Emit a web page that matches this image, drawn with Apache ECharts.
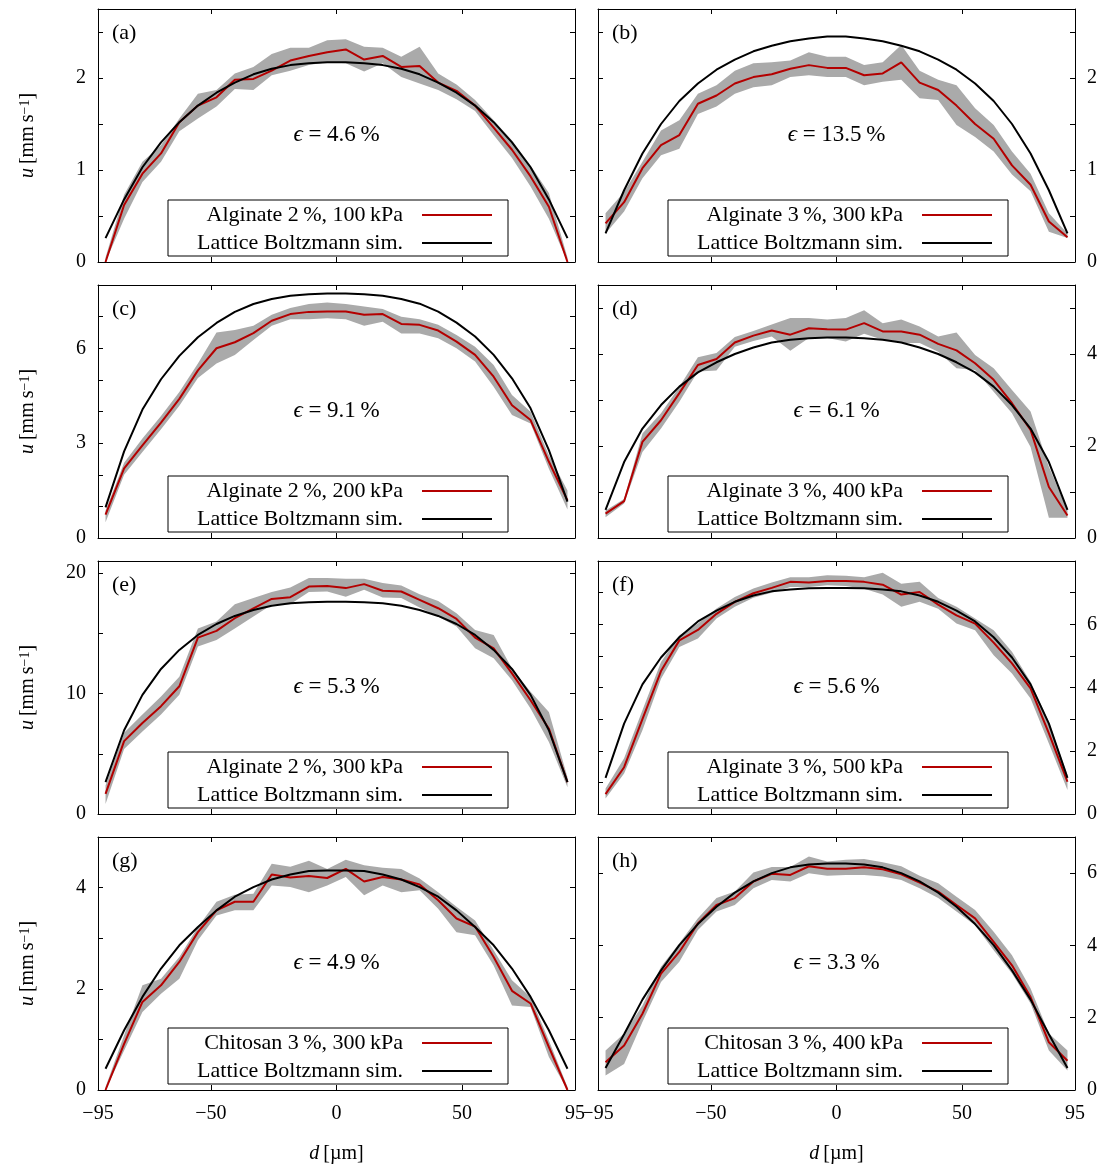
<!DOCTYPE html>
<html>
<head>
<meta charset="utf-8">
<script src="https://cdn.jsdelivr.net/npm/echarts@6/dist/echarts.min.js"></script>
<style>
  html, body { margin: 0; padding: 0; background: #fff; }
  #chart { width: 1105px; height: 1170px; }
</style>
</head>
<body>
<div id="chart"></div>
<script>
// radial position across the channel [µm]
var d = [-92.0,-84.6,-77.3,-69.9,-62.6,-55.2,-47.8,-40.5,-33.1,-25.8,-18.4,-11.0,-3.7,3.7,11.0,18.4,25.8,33.1,40.5,47.8,55.2,62.6,69.9,77.3,84.6,92.0];

// (a) Alginate 2 %, 100 kPa
var expA = [0.00,0.62,0.96,1.18,1.52,1.70,1.79,1.98,1.99,2.08,2.19,2.24,2.28,2.31,2.20,2.24,2.12,2.13,1.95,1.86,1.70,1.46,1.22,0.93,0.60,0.00];
var hiA  = [0.05,0.73,1.09,1.27,1.56,1.83,1.87,2.05,2.12,2.26,2.33,2.33,2.41,2.42,2.34,2.33,2.23,2.34,2.05,1.93,1.76,1.54,1.32,1.05,0.75,0.05];
var loA  = [0.00,0.47,0.87,1.09,1.42,1.56,1.69,1.88,1.87,2.03,2.08,2.14,2.17,2.16,2.07,2.16,2.01,1.94,1.87,1.77,1.64,1.38,1.13,0.82,0.47,0.00];
var simA = [0.26,0.68,1.03,1.30,1.52,1.70,1.84,1.95,2.04,2.10,2.14,2.16,2.17,2.17,2.16,2.14,2.10,2.04,1.95,1.84,1.70,1.52,1.30,1.03,0.68,0.26];

// (b) Alginate 3 %, 300 kPa
var expB = [0.42,0.65,1.02,1.27,1.38,1.72,1.81,1.94,2.01,2.04,2.10,2.14,2.11,2.11,2.03,2.05,2.17,1.95,1.87,1.70,1.50,1.34,1.05,0.84,0.44,0.27];
var hiB  = [0.53,0.76,1.09,1.43,1.54,1.83,1.92,2.08,2.16,2.17,2.19,2.28,2.23,2.23,2.14,2.17,2.36,2.08,1.98,1.92,1.67,1.49,1.20,0.96,0.53,0.31];
var loB  = [0.31,0.55,0.91,1.16,1.23,1.61,1.69,1.83,1.90,1.92,2.01,2.03,2.01,2.01,1.92,1.96,1.98,1.78,1.76,1.49,1.36,1.20,0.95,0.77,0.33,0.26];
var simB = [0.31,0.78,1.18,1.50,1.75,1.94,2.09,2.20,2.29,2.35,2.40,2.43,2.45,2.45,2.43,2.40,2.35,2.29,2.20,2.09,1.94,1.75,1.50,1.18,0.78,0.31];

// (c) Alginate 2 %, 200 kPa
var expC = [0.74,2.20,2.93,3.65,4.40,5.30,6.00,6.19,6.48,6.87,7.08,7.15,7.16,7.16,7.06,7.08,6.77,6.74,6.56,6.21,5.79,5.10,4.20,3.73,2.41,1.19];
var hiC  = [0.87,2.38,3.15,3.86,4.62,5.52,6.50,6.58,6.71,7.06,7.27,7.40,7.45,7.40,7.32,7.24,7.00,6.92,6.74,6.42,6.05,5.47,4.52,3.99,2.62,1.50];
var loC  = [0.50,2.00,2.72,3.44,4.18,5.06,5.52,5.79,6.26,6.71,6.92,6.92,6.95,6.92,6.71,6.84,6.47,6.47,6.32,6.00,5.58,4.78,3.89,3.62,2.19,0.90];
var simC = [0.97,2.74,4.06,5.02,5.76,6.35,6.80,7.15,7.40,7.56,7.66,7.71,7.73,7.73,7.71,7.66,7.56,7.41,7.16,6.81,6.37,5.79,5.05,4.10,2.78,1.15];

// (d) Alginate 3 %, 400 kPa
var expD = [0.53,0.80,2.09,2.56,3.15,3.76,3.89,4.25,4.40,4.51,4.42,4.56,4.54,4.53,4.67,4.49,4.49,4.42,4.22,4.08,3.80,3.44,2.93,2.35,1.11,0.49];
var hiD  = [0.60,0.85,2.27,2.71,3.29,3.93,4.02,4.37,4.50,4.64,4.78,4.78,4.75,4.78,4.95,4.67,4.75,4.60,4.38,4.47,3.98,3.69,3.22,2.75,1.55,0.60];
var loD  = [0.45,0.75,1.87,2.38,2.96,3.62,3.64,4.16,4.28,4.38,4.07,4.35,4.35,4.27,4.44,4.31,4.24,4.24,4.05,3.69,3.65,3.18,2.71,1.98,0.44,0.44];
var simD = [0.61,1.65,2.38,2.89,3.29,3.60,3.82,4.00,4.14,4.25,4.31,4.34,4.36,4.36,4.34,4.31,4.25,4.14,4.00,3.82,3.60,3.29,2.89,2.38,1.65,0.61];

// (e) Alginate 2 %, 300 kPa
var expE = [1.67,6.05,7.55,8.95,10.60,14.64,15.20,16.25,17.07,17.85,18.00,18.88,18.93,18.75,19.08,18.53,18.47,17.78,17.08,16.19,14.64,13.75,11.67,9.44,7.08,2.64];
var hiE  = [2.36,6.75,8.25,9.75,11.40,15.40,15.97,17.40,17.92,18.42,18.81,19.58,19.58,19.53,19.53,19.17,18.97,18.25,17.69,16.67,15.28,14.86,12.08,10.14,8.47,3.06];
var loE  = [0.83,5.40,6.85,8.25,9.90,13.90,14.44,15.40,16.39,17.36,17.42,18.42,18.47,18.03,18.61,17.97,17.92,17.14,16.39,15.56,13.75,12.92,11.11,8.75,5.97,2.22];
var simE = [2.64,6.95,9.89,12.04,13.62,14.86,15.77,16.44,16.93,17.29,17.49,17.57,17.62,17.62,17.57,17.49,17.29,16.93,16.44,15.77,14.86,13.62,12.04,9.89,6.95,2.64];

// (f) Alginate 3 %, 500 kPa
var expF = [0.63,1.48,3.00,4.52,5.49,5.82,6.33,6.71,6.98,7.15,7.34,7.32,7.37,7.37,7.34,7.25,6.94,7.02,6.62,6.28,6.02,5.42,4.76,3.97,2.55,1.02];
var hiF  = [0.81,1.76,3.28,4.81,5.65,6.02,6.50,6.86,7.13,7.32,7.49,7.49,7.55,7.53,7.49,7.63,7.28,7.34,6.83,6.55,6.18,5.81,5.13,4.18,2.92,1.23];
var loF  = [0.49,1.28,2.65,4.28,5.28,5.55,6.18,6.55,6.84,7.00,7.18,7.18,7.23,7.21,7.12,6.94,6.55,6.71,6.49,6.02,5.81,5.02,4.44,3.65,2.23,0.76];
var simF = [1.14,2.86,4.10,4.95,5.59,6.09,6.43,6.71,6.91,7.04,7.10,7.14,7.15,7.15,7.14,7.10,7.04,6.91,6.71,6.43,6.09,5.59,4.95,4.10,2.86,1.14];

// (g) Chitosan 3 %, 300 kPa
var expG = [0.00,0.91,1.74,2.07,2.53,3.12,3.55,3.72,3.72,4.26,4.20,4.23,4.19,4.37,4.12,4.21,4.16,4.06,3.75,3.39,3.23,2.63,1.96,1.71,0.85,0.00];
var hiG  = [0.06,1.08,2.07,2.20,2.63,3.22,3.72,3.86,3.88,4.47,4.41,4.53,4.37,4.55,4.44,4.39,4.37,4.18,3.91,3.62,3.35,2.76,2.17,1.84,0.98,0.06];
var loG  = [0.00,0.78,1.54,1.90,2.20,2.96,3.45,3.55,3.55,4.04,4.01,3.91,4.04,4.21,3.85,4.04,3.91,3.95,3.58,3.12,3.06,2.46,1.67,1.64,0.65,0.00];
var simG = [0.42,1.18,1.84,2.40,2.86,3.22,3.55,3.82,4.01,4.16,4.26,4.33,4.34,4.34,4.33,4.26,4.16,4.01,3.82,3.55,3.22,2.86,2.40,1.84,1.18,0.42];

// (h) Chitosan 3 %, 400 kPa
var expH = [0.77,1.23,2.11,3.22,3.82,4.61,5.12,5.31,5.77,5.98,5.95,6.19,6.12,6.12,6.16,6.11,5.97,5.74,5.49,5.12,4.75,4.10,3.45,2.57,1.32,0.81];
var hiH  = [1.09,1.56,2.34,3.41,4.06,4.75,5.31,5.49,6.02,6.17,6.17,6.46,6.32,6.37,6.39,6.30,6.19,5.93,5.72,5.35,4.98,4.38,3.73,2.81,1.56,1.09];
var loH  = [0.40,0.72,1.88,2.99,3.55,4.43,4.94,5.12,5.58,5.81,5.77,6.00,5.93,5.95,5.95,5.91,5.81,5.58,5.31,4.94,4.56,3.87,3.22,2.39,1.09,0.54];
var simH = [0.61,1.54,2.50,3.31,4.01,4.59,5.07,5.46,5.77,6.00,6.16,6.24,6.27,6.27,6.24,6.16,6.00,5.77,5.46,5.07,4.59,4.01,3.31,2.50,1.54,0.61];

var panelTags = ['(a)','(b)','(c)','(d)','(e)','(f)','(g)','(h)'];
var sampleNames = ['Alginate 2\u2009%, 100\u2009kPa','Alginate 3\u2009%, 300\u2009kPa','Alginate 2\u2009%, 200\u2009kPa','Alginate 3\u2009%, 400\u2009kPa',
                   'Alginate 2\u2009%, 300\u2009kPa','Alginate 3\u2009%, 500\u2009kPa','Chitosan 3\u2009%, 300\u2009kPa','Chitosan 3\u2009%, 400\u2009kPa'];
var simName = 'Lattice Boltzmann sim.';
var epsValues = ['4.6','13.5','9.1','6.1','5.3','5.6','4.9','3.3'];
var yMax = [2.75, 2.75, 8, 5.5, 21, 8, 5, 7];
var yTicks = [[0.5,1,1.5,2,2.5],[0.5,1,1.5,2,2.5],[1,2,3,4,5,6,7],[1,2,3,4,5],[5,10,15,20],[1,2,3,4,5,6,7],[1,2,3,4],[2,4,6]];
var yLabels = [[0,1,2],[0,1,2],[0,3,6],[0,2,4],[0,10,20],[0,2,4,6],[0,2,4],[0,2,4,6]];
var xTicks = [-50, 0, 50];
var xLabels = [-95, -50, 0, 50, 95];

var expData = [expA, expB, expC, expD, expE, expF, expG, expH];
var hiData = [hiA, hiB, hiC, hiD, hiE, hiF, hiG, hiH];
var loData = [loA, loB, loC, loD, loE, loF, loG, loH];
var simData = [simA, simB, simC, simD, simE, simF, simG, simH];

var FONT = "'Liberation Serif', 'DejaVu Serif', serif";
var RED = '#b40000';
var GREY = '#aaaaaa';

function pairs(ys) {
    return d.map(function (x, j) { return [x, ys[j]]; });
}
function minusFmt(v) {
    return v < 0 ? '\u2212' + (-v) : String(v);
}
// grey std-dev band: one polygon, upper edge left->right then lower edge back
function bandRenderer(lo, hi) {
    return function (params, api) {
        if (params.dataIndex !== 0) return null;
        var pts = [];
        for (var j = 0; j < d.length; j++) pts.push(api.coord([d[j], hi[j]]));
        for (var j2 = d.length - 1; j2 >= 0; j2--) pts.push(api.coord([d[j2], lo[j2]]));
        return { type: 'polygon', shape: { points: pts }, style: { fill: GREY }, silent: true };
    };
}

function buildOption() {
    var grids = [], xAxes = [], yAxes = [], series = [], legends = [], graphics = [];

    for (var i = 0; i < 8; i++) {
        var col = i % 2, row = Math.floor(i / 2);
        var gLeft = col ? 598 : 98;
        var gTop = 9 + row * 276;
        var W = 477, H = 253;
        var bottomRow = row === 3;

        grids.push({ left: gLeft, top: gTop, width: W, height: H });

        for (var k = 0; k < 2; k++) {
            var isBottom = k === 0;
            xAxes.push({
                type: 'value', gridIndex: i, min: -95, max: 95,
                position: isBottom ? 'bottom' : 'top',
                axisLine: { show: true, onZero: false, lineStyle: { color: '#000', width: 1 } },
                axisTick: { show: true, inside: true, length: 5, customValues: xTicks, lineStyle: { color: '#000' } },
                axisLabel: { show: isBottom && bottomRow, customValues: xLabels, formatter: minusFmt,
                             fontFamily: FONT, fontSize: 20, color: '#000', margin: 14 },
                splitLine: { show: false },
                name: isBottom && bottomRow ? '{i|d}\u2009[\u00b5m]' : '',
                nameLocation: 'middle', nameGap: 54,
                nameTextStyle: { fontFamily: FONT, fontSize: 20, color: '#000',
                                 rich: { i: { fontFamily: FONT, fontSize: 20, fontStyle: 'italic', color: '#000' } } }
            });
        }

        for (var m = 0; m < 2; m++) {
            var isLeft = m === 0;
            var labelled = (col === 0) === isLeft;
            yAxes.push({
                type: 'value', gridIndex: i, min: 0, max: yMax[i],
                position: isLeft ? 'left' : 'right',
                axisLine: { show: true, onZero: false, lineStyle: { color: '#000', width: 1 } },
                axisTick: { show: true, inside: true, length: 5, customValues: yTicks[i], lineStyle: { color: '#000' } },
                axisLabel: { show: labelled, customValues: yLabels[i], fontFamily: FONT, fontSize: 20, color: '#000', margin: 12 },
                splitLine: { show: false },
                name: (col === 0 && isLeft) ? '{i|u}\u2009[mm\u2009s{s|\u22121}]' : '',
                nameLocation: 'middle', nameGap: 60, nameRotate: 90,
                nameTextStyle: { fontFamily: FONT, fontSize: 20, color: '#000',
                                 rich: { i: { fontFamily: FONT, fontSize: 20, fontStyle: 'italic', color: '#000' },
                                         s: { fontFamily: FONT, fontSize: 14, color: '#000', verticalAlign: 'top' } } }
            });
        }

        var xi = 2 * i, yi = 2 * i;
        var lo = loData[i], hi = hiData[i];
        series.push({
            type: 'custom', xAxisIndex: xi, yAxisIndex: yi,
            data: d.map(function (x, j) { return [x, lo[j], hi[j]]; }),
            encode: { x: 0, y: [1, 2] },
            renderItem: bandRenderer(lo, hi),
            silent: true, z: 1
        });
        series.push({
            name: sampleNames[i], type: 'line', xAxisIndex: xi, yAxisIndex: yi,
            data: pairs(expData[i]), symbol: 'none',
            lineStyle: { color: RED, width: 2 }, itemStyle: { color: RED }, z: 3
        });
        series.push({
            name: simName, type: 'line', xAxisIndex: xi, yAxisIndex: yi,
            data: pairs(simData[i]), symbol: 'none',
            lineStyle: { color: '#000', width: 2 }, itemStyle: { color: '#000' }, z: 4
        });

        legends.push({
            data: [{ name: sampleNames[i], icon: 'rect' }, { name: simName, icon: 'rect' }],
            left: gLeft + 70, top: gTop + 191,
            orient: 'vertical', align: 'right',
            backgroundColor: '#fff', borderColor: '#000', borderWidth: 1, borderRadius: 0,
            padding: [4, 16, 2, 12], itemGap: 6, itemWidth: 70, itemHeight: 2,
            selectedMode: false, z: 10,
            formatter: function (n) { return '{t|' + n + '}{g| }'; },
            textStyle: {
                fontFamily: FONT, fontSize: 22, color: '#000', lineHeight: 21,
                rich: { t: { fontFamily: FONT, fontSize: 22, color: '#000', width: 223, align: 'right', lineHeight: 21 },
                        g: { width: 14, lineHeight: 21 } }
            }
        });

        graphics.push({
            type: 'text', left: gLeft + 14, top: gTop + 13, z: 20,
            style: { text: panelTags[i], font: '22px ' + FONT, fill: '#000' }
        });
        graphics.push({
            type: 'text', x: gLeft + W / 2, y: gTop + 126, z: 20,
            style: {
                text: '{e|\u03f5} = ' + epsValues[i] + '\u2009%',
                font: '23px ' + FONT, fill: '#000', align: 'center', verticalAlign: 'middle',
                rich: { e: { fontFamily: FONT, fontSize: 23, fontStyle: 'italic', fill: '#000' } }
            }
        });
    }

    return {
        animation: false,
        backgroundColor: '#fff',
        grid: grids,
        xAxis: xAxes,
        yAxis: yAxes,
        legend: legends,
        series: series,
        graphic: graphics
    };
}

var chart = echarts.init(document.getElementById('chart'), null, { renderer: 'canvas' });
chart.setOption(buildOption());
</script>
</body>
</html>
